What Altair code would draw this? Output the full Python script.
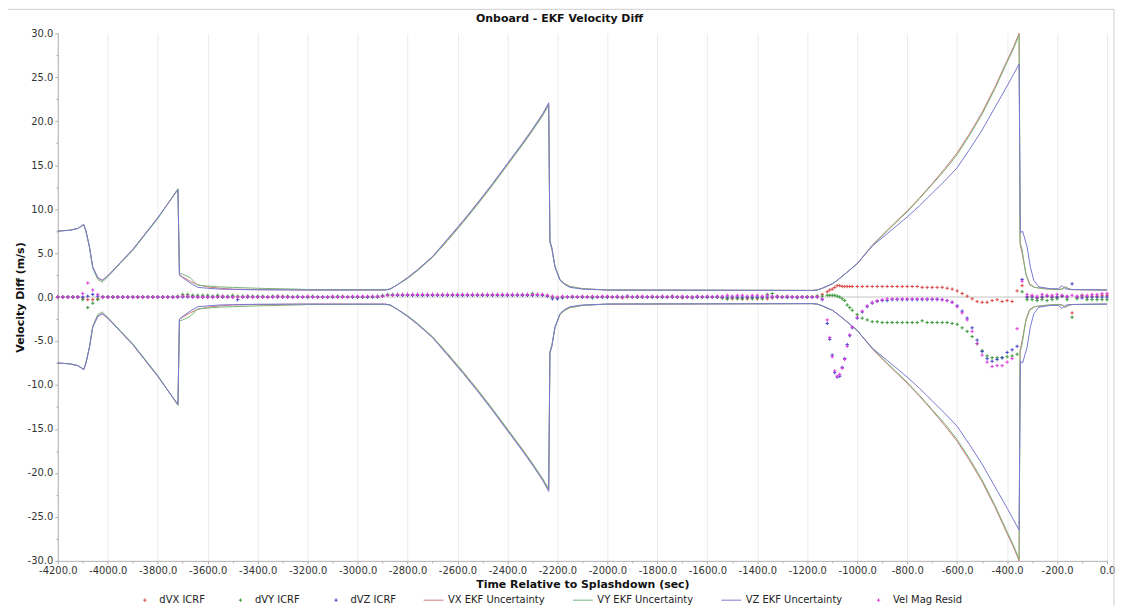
import altair as alt
import pandas as pd

FONT = "DejaVu Sans"

SERIES = ["dVX ICRF", "dVY ICRF", "dVZ ICRF", "VX EKF Uncertainty",
          "VY EKF Uncertainty", "VZ EKF Uncertainty", "Vel Mag Resid"]
COLORS = ["#dc4b4b", "#3c9a3c", "#4646c8", "#d27878", "#78b478", "#7878d2", "#e040e0"]
PLUS = "M-0.17,0H0.17M0,-0.17V0.17"
LINE = "M-1,0H1"
SHAPES = [PLUS, PLUS, PLUS, LINE, LINE, LINE, PLUS]

X_MAJOR = list(range(-4200, 1, 200))
X_MINOR = list(range(-4100, 1, 200))
Y_MAJOR = list(range(-30, 31, 5))
Y_MINOR = [-27.5, -22.5, -17.5, -12.5, -7.5, -2.5, 2.5, 7.5, 12.5, 17.5, 22.5, 27.5]

# sample times of the residual points (sec, every 20 s)
T_PTS = list(range(-4200, 1, 20))

DVX = [
    0.0, 0.0, 0.0, 0.0, 0.0, -0.1, -0.3, -0.3, -0.2, 0.0,
    0.0, 0.0, 0.0, 0.0, 0.0, 0.0, 0.0, 0.0, 0.0, 0.0,
    0.0, 0.0, 0.0, 0.0, 0.0, 0.1, 0.1, 0.1, 0.0, 0.0,
    0.0, 0.0, 0.1, 0.0, 0.0, 0.0, 0.0, 0.0, 0.0, 0.0,
    0.0, 0.0, 0.0, 0.0, 0.0, 0.1, 0.0, 0.0, 0.0, 0.0,
    0.0, 0.0, 0.0, 0.0, 0.0, 0.0, 0.0, 0.1, 0.0, 0.0,
    0.0, 0.0, 0.0, 0.0, 0.0, 0.1, 0.2, 0.2, 0.2, 0.2,
    0.2, 0.2, 0.2, 0.2, 0.2, 0.2, 0.2, 0.2, 0.2, 0.2,
    0.2, 0.2, 0.2, 0.2, 0.2, 0.2, 0.2, 0.2, 0.2, 0.2,
    0.2, 0.2, 0.2, 0.2, 0.2, 0.2, 0.3, 0.2, 0.1, 0.0,
    -0.1, 0.0, 0.0, 0.0, 0.0, 0.0, 0.0, 0.0, 0.0, 0.0,
    0.0, 0.0, 0.0, -0.1, 0.0, 0.0, 0.0, 0.0, 0.0, 0.0,
    0.0, 0.0, 0.0, 0.0, 0.0, -0.1, 0.0, 0.0, 0.0, 0.0,
    0.0, 0.0, 0.0, -0.1, -0.2, -0.2, -0.1, -0.2, -0.2, -0.1,
    -0.2, -0.1, -0.2, -0.1, 0.0, 0.0, 0.0, 0.0, 0.0, 0.0,
    0.0, 0.0, 0.1, 0.3, 0.6, 0.9, 1.3, 1.2, 1.2, 1.2,
    1.2, 1.2, 1.2, 1.2, 1.2, 1.2, 1.2, 1.2, 1.2, 1.2,
    1.2, 1.2, 1.2, 1.1, 1.1, 1.1, 1.1, 1.1, 1.0, 0.9,
    0.7, 0.4, 0.1, -0.2, -0.5, -0.6, -0.6, -0.4, -0.3, -0.5,
    -0.4, -0.5, 0.7, 1.3, 0.0, 0.1, -0.1, 0.0, 0.1, 0.0,
    0.0, 0.1, 0.0, -1.8, 0.0, 0.1, 0.0, 0.1, 0.1, 0.2,
    0.2,
]

DVY = [
    0.0, 0.0, 0.0, 0.0, 0.0, -0.3, -1.2, -0.7, -0.3, 0.0,
    0.0, 0.0, 0.0, 0.0, 0.0, 0.0, 0.0, 0.0, 0.0, 0.0,
    0.0, 0.0, 0.0, 0.0, 0.1, 0.3, 0.3, 0.2, 0.2, 0.2,
    0.2, 0.1, 0.2, 0.1, 0.1, 0.2, 0.1, 0.1, 0.1, 0.1,
    0.1, 0.1, 0.0, 0.1, 0.1, 0.0, 0.1, 0.0, 0.1, 0.0,
    0.0, 0.1, 0.0, 0.0, 0.0, 0.0, 0.1, 0.0, 0.0, 0.0,
    0.0, 0.0, 0.0, 0.0, 0.1, 0.2, 0.3, 0.3, 0.3, 0.3,
    0.3, 0.3, 0.3, 0.3, 0.3, 0.3, 0.3, 0.3, 0.3, 0.3,
    0.3, 0.3, 0.3, 0.3, 0.3, 0.3, 0.3, 0.3, 0.3, 0.3,
    0.3, 0.3, 0.3, 0.3, 0.3, 0.4, 0.3, 0.3, 0.2, 0.0,
    -0.1, 0.0, 0.0, 0.0, 0.0, 0.0, 0.0, -0.1, 0.0, 0.0,
    0.0, 0.0, 0.0, 0.0, 0.0, 0.0, 0.0, 0.0, 0.0, 0.0,
    0.0, 0.0, 0.0, 0.1, 0.0, 0.0, 0.0, 0.0, 0.0, 0.0,
    0.0, 0.0, 0.0, -0.1, -0.2, -0.1, -0.2, -0.2, -0.1, -0.2,
    -0.1, -0.2, 0.3, 0.4, 0.1, 0.0, 0.0, 0.0, -0.1, 0.0,
    0.0, 0.0, 0.1, 0.1, 0.2, 0.2, 0.1, -0.2, -0.9, -1.5,
    -2.0, -2.4, -2.6, -2.8, -2.8, -2.9, -2.9, -2.9, -2.9, -2.9,
    -2.9, -2.9, -2.9, -2.7, -2.9, -2.9, -2.9, -2.9, -2.9, -3.0,
    -3.1, -3.5, -3.9, -4.5, -5.3, -6.1, -6.7, -6.9, -6.9, -6.9,
    -6.8, -6.7, -6.5, 0.6, -0.3, -0.3, -0.4, -0.3, -0.4, -0.3,
    -0.2, 0.1, -0.3, -2.3, -0.2, 0.2, -0.3, -0.3, -0.3, -0.3,
    -0.3,
]

DVZ = [
    0.0, 0.0, 0.0, 0.0, 0.0, 0.0, 0.1, 0.3, 0.1, 0.0,
    0.0, 0.0, 0.0, 0.0, 0.0, 0.0, 0.0, 0.0, 0.0, 0.0,
    0.0, 0.0, 0.0, 0.0, 0.0, 0.0, 0.0, 0.0, 0.0, 0.0,
    0.0, 0.0, 0.0, 0.0, 0.0, 0.0, -0.3, 0.0, 0.0, 0.0,
    0.0, 0.0, 0.0, 0.0, 0.0, 0.0, 0.0, 0.0, 0.0, 0.0,
    0.0, 0.0, 0.0, 0.0, 0.0, 0.0, 0.0, 0.0, 0.0, 0.0,
    0.0, 0.0, 0.0, 0.0, 0.0, 0.1, 0.2, 0.2, 0.2, 0.2,
    0.2, 0.2, 0.2, 0.2, 0.2, 0.2, 0.2, 0.2, 0.2, 0.2,
    0.2, 0.2, 0.2, 0.2, 0.2, 0.2, 0.2, 0.2, 0.2, 0.2,
    0.2, 0.2, 0.2, 0.2, 0.2, 0.2, 0.2, 0.2, 0.1, -0.2,
    -0.2, -0.1, 0.0, 0.0, 0.0, 0.0, 0.0, 0.0, 0.0, 0.0,
    0.0, 0.0, 0.0, 0.0, 0.1, 0.0, 0.0, 0.0, 0.0, 0.0,
    0.0, 0.0, 0.0, 0.0, 0.0, 0.0, 0.0, -0.1, 0.0, 0.0,
    0.0, 0.0, 0.0, 0.0, 0.0, 0.0, 0.0, 0.0, 0.0, 0.0,
    0.0, 0.0, 0.0, 0.0, 0.0, 0.0, 0.0, 0.0, 0.0, 0.0,
    0.0, 0.0, 0.0, -0.3, -3.0, -6.6, -9.1, -8.0, -5.4, -3.5,
    -2.4, -1.7, -1.1, -0.7, -0.5, -0.4, -0.4, -0.3, -0.3, -0.3,
    -0.3, -0.3, -0.3, -0.3, -0.3, -0.3, -0.3, -0.3, -0.4, -0.6,
    -1.0, -1.6, -2.4, -3.5, -4.9, -6.2, -7.0, -7.3, -7.1, -6.9,
    -6.3, -6.0, -5.6, 2.0, 0.0, 0.0, -0.1, 0.0, 0.1, 0.0,
    0.0, 0.1, 0.0, 1.5, 0.0, -0.1, 0.0, 0.0, 0.0, 0.0,
    0.0,
]

MAG = [
    0.0, 0.0, 0.0, 0.0, 0.0, 0.4, 1.6, 0.8, 0.3, 0.0,
    0.0, 0.0, 0.0, 0.0, 0.0, 0.0, 0.0, 0.0, 0.0, 0.0,
    0.0, 0.0, 0.0, 0.0, 0.0, 0.1, 0.1, 0.0, 0.0, 0.0,
    0.0, 0.0, 0.0, 0.1, 0.0, 0.0, 0.0, 0.0, 0.1, 0.0,
    0.0, 0.0, 0.0, 0.0, 0.1, 0.0, 0.0, 0.0, 0.0, 0.0,
    0.1, 0.0, 0.0, 0.0, 0.0, 0.1, 0.0, 0.0, 0.0, 0.1,
    0.1, 0.1, 0.1, 0.1, 0.1, 0.1, 0.2, 0.2, 0.3, 0.3,
    0.3, 0.3, 0.3, 0.3, 0.3, 0.3, 0.3, 0.3, 0.3, 0.3,
    0.3, 0.3, 0.3, 0.3, 0.3, 0.3, 0.3, 0.3, 0.3, 0.3,
    0.3, 0.3, 0.3, 0.3, 0.3, 0.3, 0.3, 0.3, 0.2, 0.1,
    0.0, 0.1, 0.0, 0.1, 0.0, 0.1, 0.0, 0.1, 0.0, 0.1,
    0.1, 0.0, 0.1, 0.0, 0.1, 0.0, 0.1, 0.1, 0.0, 0.1,
    0.0, 0.1, 0.0, 0.1, 0.0, 0.1, 0.0, 0.0, 0.1, 0.0,
    0.1, 0.0, 0.1, 0.1, 0.2, 0.1, 0.2, 0.2, 0.1, 0.2,
    0.2, 0.1, 0.2, 0.1, 0.1, 0.0, 0.1, 0.0, 0.0, 0.0,
    0.0, 0.0, 0.0, -0.2, -2.6, -6.8, -9.0, -8.1, -5.6, -3.4,
    -2.3, -1.6, -1.0, -0.6, -0.4, -0.3, -0.2, -0.2, -0.2, -0.2,
    -0.2, -0.2, -0.2, -0.2, -0.2, -0.2, -0.2, -0.3, -0.4, -0.6,
    -1.1, -1.8, -2.6, -3.9, -5.3, -6.6, -7.4, -7.9, -7.8, -7.8,
    -7.4, -7.0, -3.6, 1.8, 0.3, 0.2, 0.1, 0.3, 0.2, 0.2,
    0.3, 0.2, 0.1, 0.2, 0.1, 0.2, 0.2, 0.3, 0.3, 0.4,
    0.4,
]

# extra residual samples read inside the first deep dip
T_EXTRA = [-1110, -1090, -1070, -1050, -1030]
DVX_EXTRA = [0.8, 1.1, 1.3, 1.2, 1.2]
DVY_EXTRA = [0.2, 0.2, 0.0, -0.4, -1.2]
DVZ_EXTRA = [-4.8, -8.6, -9.0, -7.0, -4.4]
MAG_EXTRA = [-4.6, -8.4, -8.8, -7.1, -4.3]

# EKF 1-sigma uncertainty knots (time sec, m/s); plotted as +/- envelope
VX_UNC = [
    (-4200, 7.5), (-4150, 7.6), (-4120, 7.8), (-4096, 8.25), (-4087, 7.5), (-4073, 5.7),
    (-4060, 3.4), (-4040, 2.2), (-4022, 1.9), (-4000, 2.4), (-3950, 3.9), (-3900, 5.4),
    (-3850, 7.2), (-3800, 9.0), (-3750, 11.0), (-3719, 12.3), (-3713, 2.5), (-3700, 2.3),
    (-3670, 1.8), (-3640, 1.4), (-3600, 1.15), (-3550, 1.0), (-3500, 0.9), (-3400, 0.85),
    (-3200, 0.8), (-2890, 0.8), (-2870, 0.9), (-2840, 1.4), (-2800, 2.2), (-2760, 3.1),
    (-2700, 4.6), (-2640, 6.5), (-2580, 8.5), (-2520, 10.6), (-2460, 12.8), (-2400, 15.1),
    (-2340, 17.4), (-2300, 19.0), (-2260, 20.7), (-2235, 21.9), (-2230, 6.3), (-2222, 5.5),
    (-2210, 3.5), (-2190, 2.0), (-2170, 1.5), (-2150, 1.2), (-2100, 0.95), (-2000, 0.8),
    (-1180, 0.75), (-1160, 0.8), (-1140, 1.0), (-1100, 1.5), (-1080, 1.9), (-1033, 3.0),
    (-1000, 3.8), (-940, 5.9), (-880, 7.6), (-800, 9.8), (-750, 11.3), (-700, 12.9),
    (-650, 14.6), (-600, 16.4), (-550, 18.6), (-500, 21.0), (-450, 23.8), (-400, 26.9),
    (-375, 28.4), (-352, 30.0), (-348, 6.0), (-340, 5.0), (-325, 2.7), (-310, 1.5),
    (-290, 1.1), (-250, 0.95), (-200, 0.85), (-180, 0.9), (-167, 1.2), (-155, 0.95),
    (-140, 0.85), (0, 0.8),
]
VY_UNC = [
    (-4200, 7.5), (-4150, 7.6), (-4120, 7.8), (-4096, 8.2), (-4087, 7.4), (-4073, 5.6),
    (-4060, 3.3), (-4040, 2.0), (-4022, 1.7), (-4000, 2.3), (-3950, 3.8), (-3900, 5.3),
    (-3850, 7.1), (-3800, 8.9), (-3750, 11.0), (-3719, 12.3), (-3713, 2.7), (-3700, 2.6),
    (-3670, 2.2), (-3640, 1.35), (-3600, 1.25), (-3550, 1.15), (-3500, 1.1), (-3400, 1.0),
    (-3240, 0.9), (-3200, 0.85), (-2890, 0.85), (-2870, 0.9), (-2840, 1.4), (-2800, 2.1),
    (-2760, 3.0), (-2700, 4.5), (-2640, 6.4), (-2580, 8.4), (-2520, 10.5), (-2460, 12.7),
    (-2400, 15.0), (-2340, 17.3), (-2300, 18.9), (-2260, 20.6), (-2235, 21.8), (-2230, 6.2),
    (-2222, 5.4), (-2210, 3.5), (-2190, 2.0), (-2170, 1.5), (-2150, 1.2), (-2100, 0.95),
    (-2000, 0.8), (-1180, 0.75), (-1160, 0.8), (-1140, 1.0), (-1100, 1.5), (-1080, 1.9),
    (-1033, 3.0), (-1000, 3.8), (-940, 5.8), (-880, 7.5), (-800, 9.7), (-750, 11.2),
    (-700, 12.8), (-650, 14.4), (-600, 16.2), (-550, 18.4), (-500, 20.8), (-450, 23.6),
    (-400, 26.7), (-375, 28.2), (-352, 29.8), (-348, 6.2), (-340, 5.4), (-325, 2.6),
    (-310, 1.4), (-290, 1.1), (-250, 0.95), (-200, 0.85), (-180, 0.9), (-167, 1.15),
    (-155, 0.95), (-140, 0.85), (0, 0.8),
]
VZ_UNC = [
    (-4200, 7.5), (-4150, 7.6), (-4120, 7.8), (-4096, 8.25), (-4087, 7.5), (-4073, 5.7),
    (-4060, 3.4), (-4040, 2.2), (-4022, 1.9), (-4000, 2.4), (-3950, 3.9), (-3900, 5.4),
    (-3850, 7.2), (-3800, 9.0), (-3750, 11.0), (-3719, 12.2), (-3713, 2.5), (-3700, 2.2),
    (-3670, 1.6), (-3640, 1.1), (-3600, 1.0), (-3550, 0.9), (-3500, 0.87), (-3400, 0.82),
    (-3200, 0.8), (-2890, 0.8), (-2870, 0.9), (-2840, 1.4), (-2800, 2.2), (-2760, 3.1),
    (-2700, 4.6), (-2640, 6.6), (-2580, 8.6), (-2520, 10.7), (-2460, 12.9), (-2400, 15.2),
    (-2340, 17.5), (-2300, 19.1), (-2260, 20.8), (-2235, 22.1), (-2230, 6.4), (-2222, 5.6),
    (-2210, 3.4), (-2190, 1.9), (-2170, 1.4), (-2150, 1.1), (-2100, 0.9), (-2000, 0.8),
    (-1180, 0.75), (-1160, 0.8), (-1140, 1.0), (-1100, 1.5), (-1080, 1.9), (-1033, 3.0),
    (-1000, 3.8), (-940, 5.8), (-880, 7.2), (-800, 9.1), (-750, 10.4), (-700, 11.8),
    (-650, 13.2), (-600, 14.7), (-550, 16.8), (-500, 19.0), (-450, 21.5), (-400, 24.0),
    (-375, 25.3), (-352, 26.5), (-347, 7.3), (-338, 7.5), (-320, 5.7), (-307, 3.4),
    (-293, 1.9), (-273, 1.16), (-227, 0.95), (-195, 0.95), (-180, 1.3), (-168, 0.95),
    (-150, 0.85), (0, 0.8),
]

# ---- tables ----
pts_rows = []
for name, vals, extra in [("dVX ICRF", DVX, DVX_EXTRA), ("dVY ICRF", DVY, DVY_EXTRA),
                          ("dVZ ICRF", DVZ, DVZ_EXTRA), ("Vel Mag Resid", MAG, MAG_EXTRA)]:
    for t, v in zip(T_PTS + T_EXTRA, vals + extra):
        pts_rows.append({"t": t, "v": v, "series": name})
pts_df = pd.DataFrame(pts_rows)

line_rows = []
for name, knots in [("VX EKF Uncertainty", VX_UNC), ("VY EKF Uncertainty", VY_UNC), ("VZ EKF Uncertainty", VZ_UNC)]:
    for sign, lab in [(1, "upper"), (-1, "lower")]:
        for t, v in knots:
            line_rows.append({"t": t, "v": sign * v, "series": name, "side": lab})
line_df = pd.DataFrame(line_rows)

x_scale = alt.Scale(domain=[-4200, 0], nice=False, zero=False)
y_scale = alt.Scale(domain=[-30, 30], nice=False)
MINUS_FIX = "replace(format(datum.value, '.1f'), '\u2212', '-')"

x_main = alt.X("t:Q", scale=x_scale,
               axis=alt.Axis(title="Time Relative to Splashdown (sec)", orient="bottom",
                             values=X_MAJOR, labelExpr=MINUS_FIX))
y_main = alt.Y("v:Q", scale=y_scale,
               axis=alt.Axis(title="Velocity Diff (m/s)", orient="left",
                             values=Y_MAJOR, labelExpr=MINUS_FIX))
x_plain = alt.X("t:Q", scale=x_scale, axis=None)
y_plain = alt.Y("v:Q", scale=y_scale, axis=None)

legend = alt.Legend(title=None, orient="none", legendX=77, legendY=559,
                    direction="horizontal", columns=7, gridAlign="none",
                    columnPadding=25, symbolSize=400, symbolStrokeWidth=1,
                    symbolFillColor="transparent", labelOffset=4,
                    labelFont=FONT, labelFontSize=10, labelColor="#222", padding=0)
color_enc = alt.Color("series:N", scale=alt.Scale(domain=SERIES, range=COLORS), legend=legend)
shape_enc = alt.Shape("series:N", scale=alt.Scale(domain=SERIES, range=SHAPES), legend=legend)

zero_df = pd.DataFrame({"t": [0.0], "v": [0.0]})

# minor tick marks (axes without labels or grid)
minor = alt.Chart(zero_df).mark_point(opacity=0).encode(
    x=alt.X("t:Q", scale=x_scale,
            axis=alt.Axis(orient="bottom", values=X_MINOR, labels=False, grid=False,
                          domain=False, tickSize=2, title=None)),
    y=alt.Y("v:Q", scale=y_scale,
            axis=alt.Axis(orient="left", values=Y_MINOR, labels=False, grid=False,
                          domain=False, tickSize=2, title=None)),
)

zero = alt.Chart(zero_df).mark_rule(color="#c4c4c4", strokeWidth=1).encode(y=y_plain)

frame = alt.Chart(zero_df).mark_rect(fill="transparent", stroke="#cfcfcf", strokeWidth=1).encode(
    x=alt.value(-52), x2=alt.value(1061), y=alt.value(-24), y2=alt.value(600))

lines = alt.Chart(line_df).mark_line(strokeWidth=1).encode(
    x=x_main, y=y_main, color=color_enc, detail="side:N")

points = alt.Chart(pts_df).mark_point(filled=False, size=400, strokeWidth=1, opacity=1).encode(
    x=x_plain, y=y_plain, color=color_enc, shape=shape_enc)

chart = alt.layer(frame, zero, lines, points, minor).resolve_axis(
    x="independent", y="independent"
).properties(
    width=1054, height=530,
    padding={"left": 50, "top": 24, "right": 10, "bottom": 44},
    autosize=alt.AutoSizeParams(type="none"),
    title=alt.TitleParams("Onboard - EKF Velocity Diff", font=FONT, fontSize=11, fontWeight="bold",
                          color="#111", offset=-15, dx=-23, anchor="middle"),
).configure_view(stroke=None).configure_axis(
    gridColor="#ebebeb", domainColor="#b0b0b0", tickColor="#b0b0b0", tickSize=3,
    labelFont=FONT, labelFontSize=10, labelColor="#333", labelPadding=2,
    titleFont=FONT, titleFontSize=11, titleFontWeight="bold", titleColor="#111",
    labelFlush=False, labelOverlap=False,
).configure_axisX(titlePadding=3).configure_axisY(titlePadding=2)

chart.save("out.html", embed_options={"renderer": "svg", "actions": False})
